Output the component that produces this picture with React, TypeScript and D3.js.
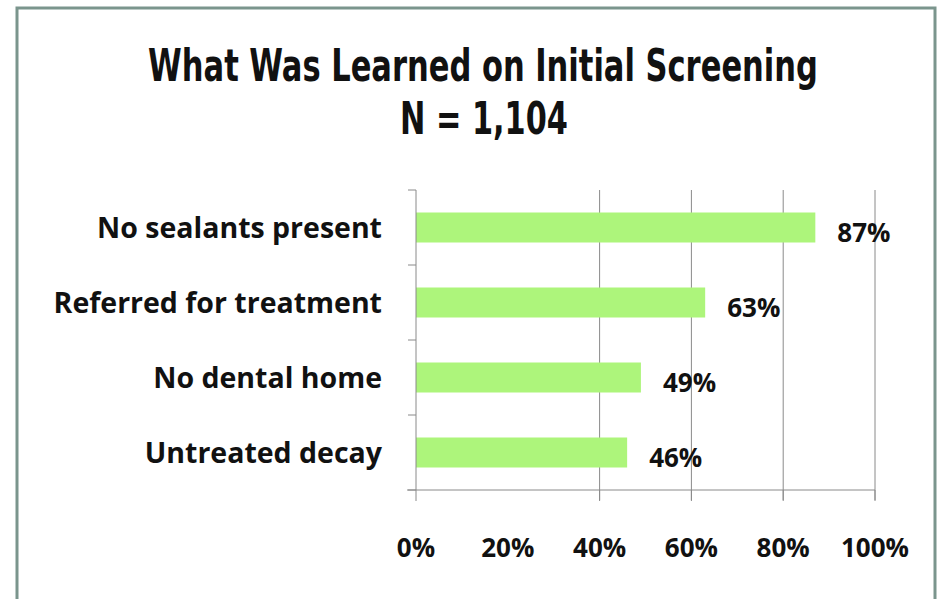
import React, { useEffect, useRef } from "react";
import * as d3 from "d3";

const categories = ["No sealants present", "Referred for treatment", "No dental home", "Untreated decay"];
const values = [0.87, 0.63, 0.49, 0.46];
const tickLabels = [0, 0.2, 0.4, 0.6, 0.8, 1];
// the original has no gridline / tick at 20%
const gridTicks = [0.4, 0.6, 0.8, 1];
const axisTicks = [0, 0.4, 0.6, 0.8, 1];
const title = "What Was Learned on Initial Screening";
const subtitle = "N = 1,104";

const App = () => {
  const ref = useRef<SVGSVGElement>(null);

  useEffect(() => {
    const width = 946;
    const height = 599;
    const svg = d3.select(ref.current);
    svg.selectAll("*").remove();

    const x = d3.scaleLinear().domain([0, 1]).range([416, 875]);
    const y = d3.scaleBand().domain(categories).range([190, 490]).paddingInner(0.6).paddingOuter(0.3);

    svg.append("rect").attr("width", width).attr("height", height).attr("fill", "#fff");
    svg.append("rect")
      .attr("x", 17).attr("y", 8).attr("width", 918).attr("height", 610)
      .attr("fill", "none").attr("stroke", "#7b958d").attr("stroke-width", 3);

    // condensed heading: squeeze the glyphs horizontally to the width of the original
    const titleFont = "'DejaVu Sans Condensed', 'Liberation Sans Narrow', sans-serif";
    const heading = (txt: string, cx: number, base: number, w: number) => {
      const g = svg.append("g");
      const t = g.append("text")
        .attr("text-anchor", "middle")
        .attr("font-family", titleFont).attr("font-weight", "bold").attr("font-size", 44)
        .attr("fill", "#111")
        .text(txt);
      const natural = (t.node() as SVGTextElement).getComputedTextLength() || w;
      g.attr("transform", `translate(${cx},${base}) scale(${w / natural},1)`);
    };
    heading(title, 483, 81, 670);
    heading(subtitle, 484, 134, 168);

    const font = "'Open Sans', Lato, sans-serif";

    // gridlines
    svg.append("g")
      .selectAll("line")
      .data(gridTicks)
      .join("line")
      .attr("x1", d => x(d)).attr("x2", d => x(d))
      .attr("y1", 190).attr("y2", 500)
      .attr("stroke", "#8a8a8a").attr("stroke-width", 1);

    // bars
    svg.append("g")
      .selectAll("rect")
      .data(values)
      .join("rect")
      .attr("x", x(0))
      .attr("y", (d, i) => y(categories[i])!)
      .attr("width", d => x(d) - x(0))
      .attr("height", y.bandwidth())
      .attr("fill", "#adf57b");

    // y axis
    const yAxis = svg.append("g");
    yAxis.append("line")
      .attr("x1", x(0)).attr("x2", x(0)).attr("y1", 190).attr("y2", 490)
      .attr("stroke", "#8a8a8a");
    const step = y.step();
    yAxis.selectAll("line.tick")
      .data(d3.range(categories.length + 1))
      .join("line")
      .attr("class", "tick")
      .attr("x1", x(0) - 8).attr("x2", x(0))
      .attr("y1", i => 190 + i * step).attr("y2", i => 190 + i * step)
      .attr("stroke", "#8a8a8a");

    // x axis
    const xAxis = svg.append("g");
    xAxis.append("line")
      .attr("x1", x(0) - 9).attr("x2", x(1)).attr("y1", 490).attr("y2", 490)
      .attr("stroke", "#8a8a8a");
    xAxis.selectAll("line.tick")
      .data(axisTicks)
      .join("line")
      .attr("class", "tick")
      .attr("x1", d => x(d)).attr("x2", d => x(d))
      .attr("y1", 490).attr("y2", 501)
      .attr("stroke", "#8a8a8a");
    xAxis.selectAll("text")
      .data(tickLabels)
      .join("text")
      .attr("x", d => x(d))
      .attr("y", 557)
      .attr("text-anchor", "middle")
      .attr("font-family", font).attr("font-weight", "bold").attr("font-size", 26)
      .attr("fill", "#111")
      .text(d => d3.format(".0%")(d));

    // category labels
    svg.append("g")
      .selectAll("text")
      .data(categories)
      .join("text")
      .attr("x", 382)
      .attr("y", d => y(d)! + y.bandwidth() / 2 + 10)
      .attr("text-anchor", "end")
      .attr("font-family", font).attr("font-weight", "bold").attr("font-size", 28.5)
      .attr("fill", "#111")
      .text(d => d);

    // value labels
    svg.append("g")
      .selectAll("text")
      .data(values)
      .join("text")
      .attr("x", d => x(d) + 22)
      .attr("y", (d, i) => y(categories[i])! + y.bandwidth() / 2 + 14)
      .attr("font-family", font).attr("font-weight", "bold").attr("font-size", 26)
      .attr("fill", "#111")
      .text(d => d3.format(".0%")(d));
  }, []);

  return (
    <svg
      ref={ref}
      width={946}
      height={599}
      style={{ position: "absolute", left: 0, top: 0, display: "block" }}
    />
  );
};

export default App;
